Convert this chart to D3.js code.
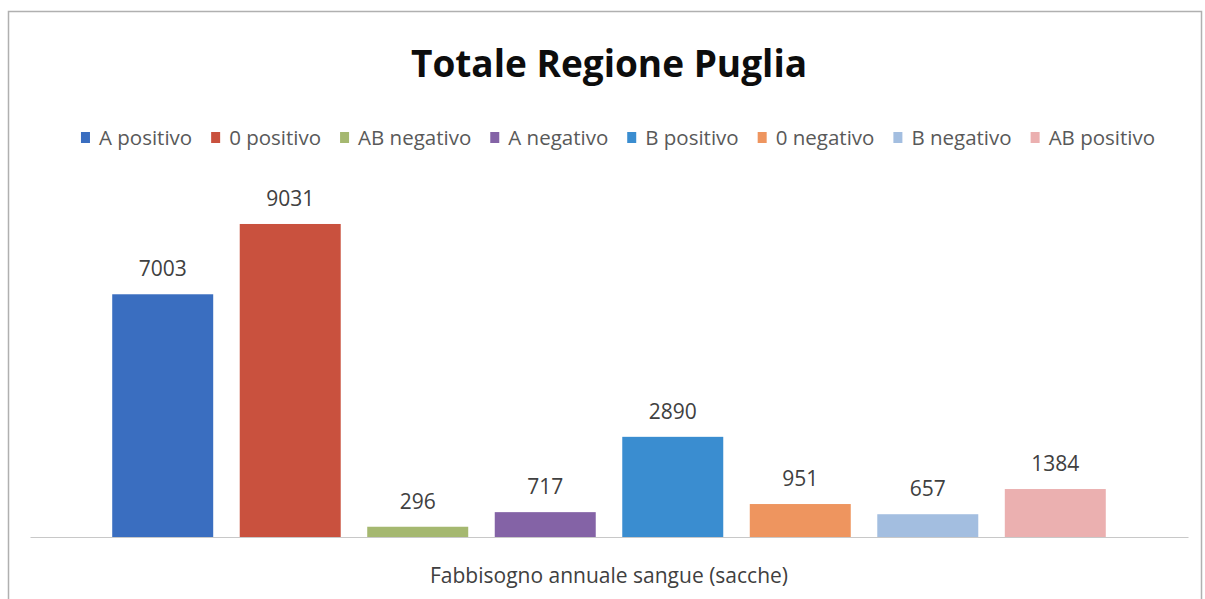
<!DOCTYPE html>
<html>
	<head>
		<meta charset="utf-8">
		<title>Totale Regione Puglia</title>
		<style>
			body {
				margin: 0;
				background: #fff;
			}
			text {
				font-family: "Open Sans", "Noto Sans", sans-serif;
			}
		</style>
	</head>
<body>
	<div id="chart"></div>

	<script src="https://cdn.jsdelivr.net/npm/d3@7"></script>
	<script type="text/javascript">

	// data
	var category = "Fabbisogno annuale sangue (sacche)";
	var groups = ["A positivo", "0 positivo", "AB negativo", "A negativo", "B positivo", "0 negativo", "B negativo", "AB positivo"];
	var values = [7003, 9031, 296, 717, 2890, 951, 657, 1384];
	var colors = ["#3a6ec0", "#c9513e", "#a5b870", "#8463a6", "#3a8dd0", "#ee955f", "#a3bee0", "#ebb0b0"];

	var width = 1205,
		height = 599;

	var svg = d3.select("#chart").append("svg")
		.attr("width", width)
		.attr("height", height);

	// chart frame
	svg.append("rect")
		.attr("x", 8.5)
		.attr("y", 11.5)
		.attr("width", 1193)
		.attr("height", 600)
		.attr("fill", "#fff")
		.attr("stroke", "#b0b0b0")
		.attr("stroke-width", 1.5);

	// title
	svg.append("text")
		.attr("x", 609)
		.attr("y", 77)
		.attr("text-anchor", "middle")
		.style("font-size", "37px")
		.style("font-weight", "bold")
		.style("fill", "#0d0d0d")
		.text("Totale Regione Puglia");

	// scales
	var x0 = d3.scaleBand()
		.domain([category])
		.range([30, 1188])
		.paddingInner(0)
		.paddingOuter(0.0676);

	var x1 = d3.scaleBand()
		.domain(groups)
		.range([0, x0.bandwidth()])
		.paddingInner(0.208)
		.paddingOuter(0.104);

	var y = d3.scaleLinear()
		.domain([0, 10000])
		.range([537, 190.4]);

	var color = d3.scaleOrdinal()
		.domain(groups)
		.range(colors);

	var data = groups.map(function(g, i) { return {label: g, value: values[i]}; });

	// bars
	var g = svg.append("g")
		.attr("transform", "translate(" + x0(category) + ",0)");

	g.selectAll(".bar")
		.data(data)
		.enter().append("rect")
		.attr("class", "bar")
		.attr("x", function(d) { return x1(d.label); })
		.attr("width", x1.bandwidth())
		.attr("y", function(d) { return y(d.value); })
		.attr("height", function(d) { return y(0) - y(d.value); })
		.attr("fill", function(d) { return color(d.label); });

	// value labels
	g.selectAll(".lbl")
		.data(data)
		.enter().append("text")
		.attr("class", "lbl")
		.attr("x", function(d) { return x1(d.label) + x1.bandwidth() / 2; })
		.attr("y", function(d) { return y(d.value) - 18; })
		.attr("text-anchor", "middle")
		.style("font-size", "21px")
		.style("fill", "#404040")
		.text(function(d) { return d.value; });

	// x axis (line + category label only)
	var xAxis = svg.append("g")
		.attr("transform", "translate(0," + y(0) + ")")
		.call(d3.axisBottom(x0).tickSize(0).tickPadding(37));

	xAxis.select(".domain")
		.attr("stroke", "#c8c8c8")
		.attr("stroke-width", 1.2);

	xAxis.selectAll(".tick text")
		.attr("dy", "0.45em")
		.style("font-family", "\"Open Sans\", \"Noto Sans\", sans-serif")
		.style("font-size", "21px")
		.style("fill", "#404040");

	// legend
	var legend = svg.append("g");
	var items = legend.selectAll(".item")
		.data(groups)
		.enter().append("g")
		.attr("class", "item");

	items.append("rect")
		.attr("width", 9)
		.attr("height", 11)
		.attr("y", 132)
		.attr("fill", function(d) { return color(d); });

	items.append("text")
		.attr("x", 18)
		.attr("y", 145)
		.style("font-size", "20.5px")
		.style("fill", "#595959")
		.text(function(d) { return d; });

	var pos = 0;
	var offsets = [];
	items.each(function() {
		offsets.push(pos);
		var w = d3.select(this).select("text").node().getComputedTextLength();
		pos += 18 + w + 19;
	});
	var total = pos - 19;
	var start = 618 - total / 2;
	items.attr("transform", function(d, i) { return "translate(" + (start + offsets[i]) + ",0)"; });

	</script>

  </body>
</html>
